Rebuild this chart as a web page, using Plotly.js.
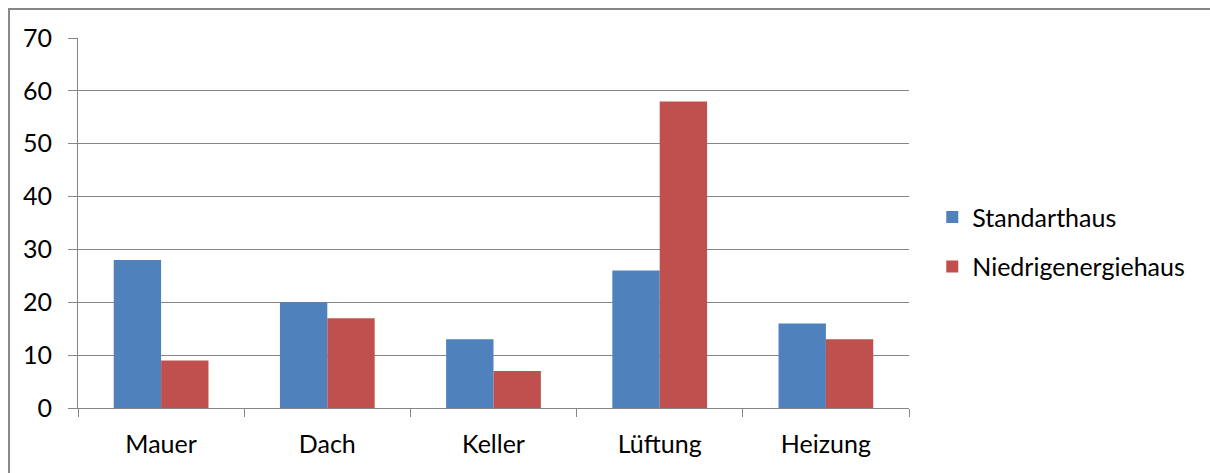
<!DOCTYPE html>
<html>
<head>
<meta charset="utf-8">
<script src="https://cdn.plot.ly/plotly-3.0.1.min.js"></script>
<style>html,body{margin:0;padding:0;background:#fff;}#chart{width:1210px;height:473px;}</style>
</head>
<body>
<div id="chart"></div>
<script>
const categories = ["Mauer", "Dach", "Keller", "Lüftung", "Heizung"];
const standarthaus = [28, 20, 13, 26, 16];
const niedrigenergiehaus = [9, 17, 7, 58, 13];
const seriesNames = ["Standarthaus", "Niedrigenergiehaus"];
const yTicks = [0, 10, 20, 30, 40, 50, 60, 70];

const grid = '#868686';
const fontFam = 'Lato, "Open Sans", sans-serif';

const data = [
  {type: 'bar', name: seriesNames[0], x: categories, y: standarthaus,
   marker: {color: '#4F81BD'}, legendgroup: 'a', hoverinfo: 'y'},
  {type: 'bar', name: seriesNames[1], x: categories, y: niedrigenergiehaus,
   marker: {color: '#C0504D'}, legendgroup: 'b', hoverinfo: 'y'}
];

const layout = {
  width: 1210, height: 473,
  margin: {l: 78, r: 301, t: 38, b: 65, pad: 0},
  paper_bgcolor: '#fff', plot_bgcolor: '#fff',
  font: {family: fontFam, size: 25, color: '#000'},
  barmode: 'group', bargap: 0.43, bargroupgap: 0,
  showlegend: true,
  legend: {x: 1.028, xanchor: 'left', y: 0.449, yanchor: 'middle',
           font: {family: fontFam, size: 25, color: '#000'},
           traceorder: 'grouped', tracegroupgap: 14, borderwidth: 0,
           bgcolor: 'rgba(0,0,0,0)'},
  xaxis: {type: 'category', showline: true, linecolor: grid, linewidth: 1,
          ticks: 'outside', tickson: 'boundaries', ticklen: 8, tickcolor: grid,
          tickwidth: 1, showgrid: false, zeroline: false,
          ticklabelstandoff: 14, fixedrange: true},
  yaxis: {range: [0, 70], tickvals: yTicks, showline: true, linecolor: grid,
          linewidth: 1, ticks: 'outside', ticklen: 9, tickcolor: grid, tickwidth: 1,
          showgrid: true, gridcolor: grid, gridwidth: 1, zeroline: false,
          ticklabelstandoff: 11, fixedrange: true},
  shapes: [
    {type: 'rect', xref: 'paper', yref: 'paper',
     x0: -0.083, x1: 1.6, y0: -0.4, y1: 1.0784,
     line: {color: '#878787', width: 2}, fillcolor: 'rgba(0,0,0,0)', layer: 'below'}
  ]
};

Plotly.newPlot('chart', data, layout, {displayModeBar: false, staticPlot: true});
</script>
</body>
</html>
